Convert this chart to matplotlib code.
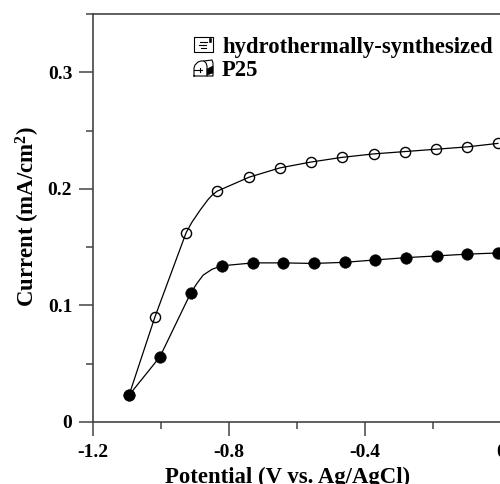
import matplotlib
matplotlib.use('Agg')
import matplotlib.pyplot as plt
from matplotlib.patches import Rectangle, Polygon
from matplotlib.lines import Line2D

plt.rcParams['font.family'] = 'Liberation Serif'
plt.rcParams['font.weight'] = 'bold'
plt.rcParams['mathtext.fontset'] = 'custom'
plt.rcParams['mathtext.bf'] = 'Liberation Serif:bold'
plt.rcParams['mathtext.rm'] = 'Liberation Serif:bold'

# markers
open_x = [-1.094, -1.018, -0.926, -0.835, -0.741, -0.650, -0.559, -0.468, -0.374, -0.282, -0.191, -0.100, -0.009]
open_y = [0.023, 0.090, 0.1625, 0.198, 0.210, 0.218, 0.223, 0.227, 0.230, 0.232, 0.234, 0.236, 0.239]
filled_x = [-1.094, -1.003, -0.912, -0.821, -0.729, -0.641, -0.550, -0.459, -0.371, -0.279, -0.188, -0.100, -0.009]
filled_y = [0.023, 0.056, 0.111, 0.134, 0.1365, 0.1365, 0.136, 0.137, 0.139, 0.141, 0.1425, 0.144, 0.145]

# extra points on the drawn curves, around the knees
open_line_x = [-1.094, -1.018, -0.926, -0.909, -0.885, -0.862, -0.850, -0.835, -0.741, -0.650, -0.559, -0.468, -0.374, -0.282, -0.191, -0.100, -0.009]
open_line_y = [0.023, 0.090, 0.1625, 0.1714, 0.1817, 0.1907, 0.1945, 0.198, 0.210, 0.218, 0.223, 0.227, 0.230, 0.232, 0.234, 0.236, 0.239]
filled_line_x = [-1.094, -1.003, -0.912, -0.894, -0.876, -0.850, -0.821, -0.729, -0.641, -0.550, -0.459, -0.371, -0.279, -0.188, -0.100, -0.009]
filled_line_y = [0.023, 0.056, 0.111, 0.119, 0.126, 0.131, 0.134, 0.1365, 0.1365, 0.136, 0.137, 0.139, 0.141, 0.1425, 0.144, 0.145]

x_ticks = [-1.2, -0.8, -0.4, 0]
x_labels = ['-1.2', '-0.8', '-0.4', '0']
x_minor = [-1.0, -0.6, -0.2]
y_ticks = [0, 0.1, 0.2, 0.3]
y_labels = ['0', '0.1', '0.2', '0.3']
y_minor = [0.05, 0.15, 0.25, 0.35]

fig = plt.figure(figsize=(5, 4.84), dpi=100)
ax = fig.add_axes([93 / 500, 1 - 422 / 484, 408 / 500, 408 / 484])
ax.set_xlim(-1.2, 0)
ax.set_ylim(0, 0.35)

ax.plot(open_line_x, open_line_y, color='black', lw=0.9, zorder=2)
ax.plot(filled_line_x, filled_line_y, color='black', lw=0.9, zorder=2)
ax.plot(open_x, open_y, ls='none', marker='o', ms=7.3, mfc='none', mec='black', mew=1.0, zorder=3)
ax.plot(filled_x, filled_y, ls='none', marker='o', ms=8.4, mfc='black', mec='black', mew=0.3, zorder=4)

for s in ['left', 'bottom', 'top']:
    ax.spines[s].set_color('#444444')
    ax.spines[s].set_linewidth(1.2)
ax.spines['right'].set_visible(False)

ax.set_xticks(x_ticks)
ax.set_xticklabels(x_labels)
ax.set_xticks(x_minor, minor=True)
ax.set_yticks(y_ticks)
ax.set_yticklabels(y_labels)
ax.set_yticks(y_minor, minor=True)
ax.tick_params(which='major', length=10, width=1.1, color='#444444', labelsize=14, pad=5)
ax.tick_params(which='minor', length=5, width=1.1, color='#444444')
ax.tick_params(axis='x', which='major', length=10, pad=6)

fig.text(288 / 500, 1 - 477 / 484, 'Potential (V vs. Ag/AgCl)', fontsize=16.4, ha='center', va='center')
fig.text(28 / 500, 1 - 217 / 484, 'Current (mA/cm$\\mathbf{^2}$)', fontsize=16.4, rotation=90, ha='center', va='center')

fig.text(222 / 500, 1 - 47.5 / 484, 'hydrothermally-synthesized', fontsize=16.3, ha='left', va='center')
fig.text(222 / 500, 1 - 70 / 484, 'P25', fontsize=16.3, ha='left', va='center')

# legend icons, in pixel coordinates of the figure
def px(x, y):
    return (x / 500, 1 - y / 484)

def add_line(xs, ys, lw=0.8):
    pts = [px(a, b) for a, b in zip(xs, ys)]
    fig.add_artist(Line2D([p[0] for p in pts], [p[1] for p in pts], color='black', lw=lw))

fig.add_artist(Rectangle(px(193.5, 52), 19 / 500, 15 / 484, fill=False, ec='black', lw=0.8, transform=fig.transFigure))
fig.add_artist(Rectangle(px(209, 42), 2 / 500, 4 / 484, fc='black', ec='black', lw=0.4, transform=fig.transFigure))
add_line([200, 207], [42, 42])
add_line([199, 206], [45, 45])
add_line([201, 206], [48, 48])

add_line([194, 194, 195, 198, 201, 204, 212, 213, 213, 194], [76, 68, 65, 62, 61, 61, 60, 63, 76, 76])
add_line([204, 206, 207, 207], [61, 63, 66, 76])
add_line([194, 202], [70, 70])
add_line([200, 200], [68, 72])
fig.add_artist(Polygon([px(207, 69), px(213, 66), px(213, 73), px(207, 75)], closed=True, fc='black', ec='black', lw=0.4, transform=fig.transFigure))

fig.savefig('out.png', dpi=100)
